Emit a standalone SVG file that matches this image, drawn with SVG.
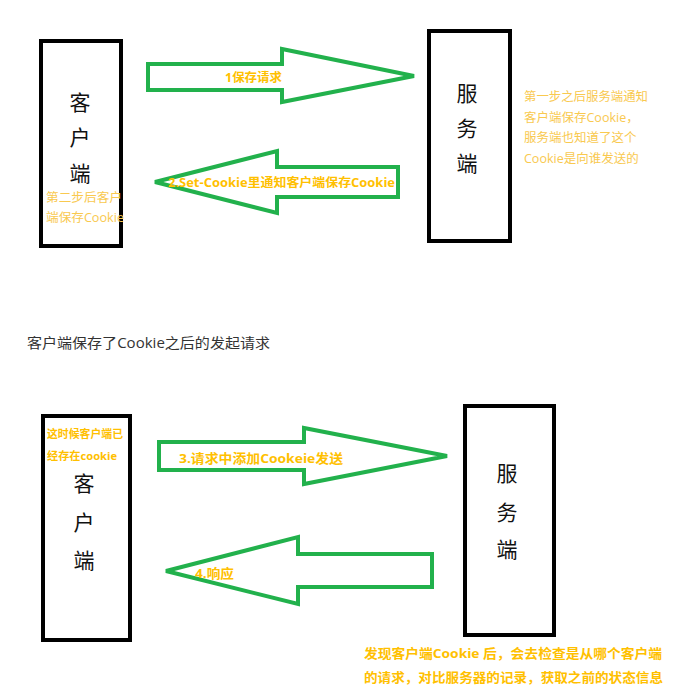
<svg xmlns="http://www.w3.org/2000/svg" width="691" height="694" viewBox="0 0 691 694">
<style>
.box{fill:#fff;stroke:#000;stroke-width:4}
.big{font-family:"Open Sans","Noto Sans CJK SC",sans-serif;font-size:21px;fill:#111;text-anchor:middle;dominant-baseline:central}
.note{font-family:"Open Sans","Noto Sans CJK SC",sans-serif;font-size:12.5px;fill:#f9c94f;dominant-baseline:central}
.bold{font-family:"Open Sans","Noto Sans CJK SC",sans-serif;font-weight:bold;fill:#ffc000;dominant-baseline:central}
.arrow{fill:none;stroke:#22b14c;stroke-width:4;stroke-linejoin:miter}
.cap{font-family:"Open Sans","Noto Sans CJK SC",sans-serif;font-size:14px;fill:#333;dominant-baseline:central}
</style>
<rect width="691" height="694" fill="#fff"/>
<g id="connectors">
<polygon class="arrow" points="148,64 282,64 282,49 414,76 282,102 282,90 148,90"/>
<text class="bold" x="225" y="77" font-size="12.5" textLength="57" lengthAdjust="spacingAndGlyphs">1保存请求</text>
<polygon class="arrow" points="155,182 277,151 277,167 398,167 398,197 277,197 277,213"/>
<text class="bold" x="168" y="182" font-size="12" textLength="227" lengthAdjust="spacingAndGlyphs">2.Set-Cookie里通知客户端保存Cookie</text>
<polygon class="arrow" points="159,442 304,442 304,428 447,456 304,484 304,470 159,470"/>
<text class="bold" x="179" y="458" font-size="13" textLength="164" lengthAdjust="spacingAndGlyphs">3.请求中添加Cookeie发送</text>
<polygon class="arrow" points="166,571 298,537 298,554 432,554 432,587 298,587 298,604"/>
<text class="bold" x="195" y="573" font-size="13" textLength="39" lengthAdjust="spacingAndGlyphs">4.响应</text>
</g>
<g id="client-top">
<rect class="box" x="41" y="41" width="80" height="205"/>
<text class="big" x="80" y="102">客</text>
<text class="big" x="80" y="137">户</text>
<text class="big" x="80" y="173">端</text>
<text class="note" x="46" y="197" textLength="76" lengthAdjust="spacingAndGlyphs">第二步后客户</text>
<text class="note" x="46" y="217" textLength="78" lengthAdjust="spacingAndGlyphs">端保存Cookie</text>
</g>
<g id="server-top">
<rect class="box" x="429" y="31" width="81" height="210"/>
<text class="big" x="467" y="93">服</text>
<text class="big" x="467" y="128">务</text>
<text class="big" x="467" y="163">端</text>
</g>
<g id="note-top">
<text class="note" x="524" y="96" textLength="124" lengthAdjust="spacingAndGlyphs">第一步之后服务端通知</text>
<text class="note" x="524" y="117">客户端保存Cookie，</text>
<text class="note" x="524" y="137">服务端也知道了这个</text>
<text class="note" x="524" y="158">Cookie是向谁发送的</text>
</g>
<g id="caption">
<text class="cap" x="27" y="342" textLength="243" lengthAdjust="spacingAndGlyphs">客户端保存了Cookie之后的发起请求</text>
</g>
<g id="client-bottom">
<rect class="box" x="43" y="416" width="87" height="224"/>
<text class="bold" x="47" y="433" font-size="11" textLength="76" lengthAdjust="spacingAndGlyphs">这时候客户端已</text>
<text class="bold" x="47" y="455" font-size="11" textLength="70" lengthAdjust="spacingAndGlyphs">经存在cookie</text>
<text class="big" x="84" y="483">客</text>
<text class="big" x="84" y="522">户</text>
<text class="big" x="84" y="560">端</text>
</g>
<g id="server-bottom">
<rect class="box" x="465" y="406" width="89" height="229"/>
<text class="big" x="507" y="473">服</text>
<text class="big" x="507" y="512">务</text>
<text class="big" x="507" y="549">端</text>
</g>
<g id="note-bottom">
<text class="bold" x="364" y="653" font-size="13" textLength="298" lengthAdjust="spacingAndGlyphs">发现客户端Cookie 后，会去检查是从哪个客户端</text>
<text class="bold" x="364" y="677" font-size="13" textLength="299" lengthAdjust="spacingAndGlyphs">的请求，对比服务器的记录，获取之前的状态信息</text>
</g>
</svg>
